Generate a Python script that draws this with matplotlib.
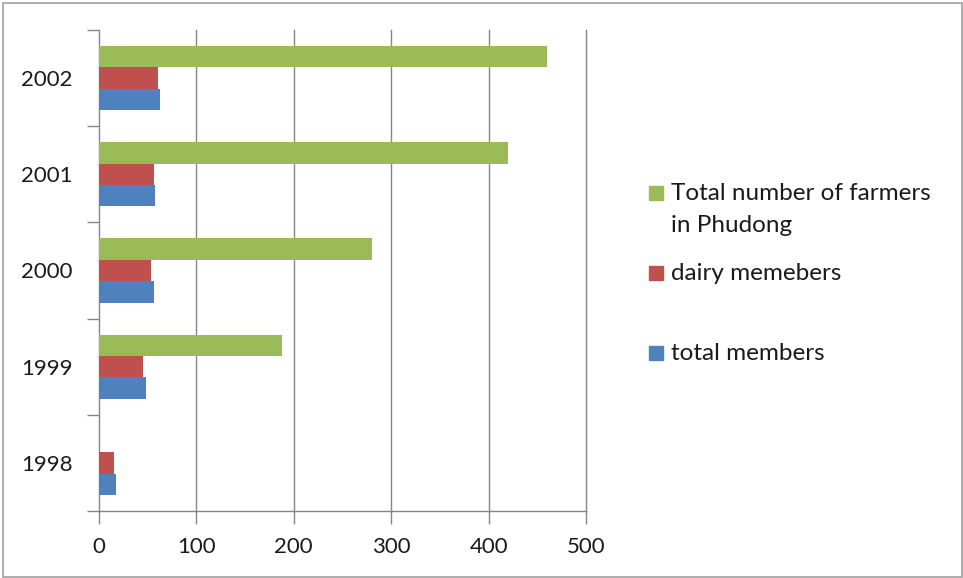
import matplotlib

matplotlib.use("Agg")
import matplotlib.pyplot as plt
import numpy as np
from matplotlib.patches import Rectangle

years = ["1998", "1999", "2000", "2001", "2002"]
total_members = [17.5, 48, 56, 57, 63]
dairy_members = [15, 45.5, 53, 56, 61]
farmers_phudong = [0, 188, 280, 420, 460]

series = [
    ("total members", total_members, "#4F81BD"),
    ("dairy memebers", dairy_members, "#C0504D"),
    ("Total number of farmers\nin Phudong", farmers_phudong, "#9BBB59"),
]

plt.rcParams["font.family"] = ["Lato", "DejaVu Sans"]
W, H = 963, 578
fig = plt.figure(figsize=(W / 100, H / 100), dpi=100)
ax = fig.add_axes([99 / W, (H - 511) / H, (586 - 99) / W, (511 - 30) / H])

grid_col = "#868686"
y = np.arange(len(years))
h = 2 / 3 / 3
for i, (name, vals, col) in enumerate(series):
    ax.barh(y + (i - 1) * h, vals, height=h, color=col, zorder=3)

ax.set_xlim(0, 500)
ax.set_ylim(-0.5, len(years) - 0.5)
ax.set_xticks(np.arange(0, 501, 100))
ax.set_yticks(np.arange(-0.5, len(years), 1.0))
ax.set_yticklabels([])
ax.set_yticks(y, minor=True)
ax.set_yticklabels(years, minor=True)
ax.tick_params(axis="y", which="major", length=9, color=grid_col, width=1)
ax.tick_params(axis="y", which="minor", length=0, pad=19, labelsize=16, labelcolor="#1a1a1a")
ax.tick_params(axis="x", length=9, color=grid_col, width=1, pad=10, labelsize=16, labelcolor="#1a1a1a")
for xv in ax.get_xticks()[1:]:
    ax.axvline(xv, color=grid_col, linewidth=1, zorder=0, clip_on=False)
for side in ("top", "right"):
    ax.spines[side].set_visible(False)
for side in ("left", "bottom"):
    ax.spines[side].set_color(grid_col)
    ax.spines[side].set_linewidth(1)

# legend drawn by hand to keep the uneven spacing between entries
legend_rows = [(193, 225), (273, None), (353, None)]
for (name, vals, col), (ty, ty2) in zip(reversed(series), legend_rows):
    fig.patches.append(Rectangle((649 / W, (H - ty - 7) / H), 14 / W, 14 / H,
                                 transform=fig.transFigure, color=col))
    lines = name.split("\n")
    fig.text(671 / W, (H - ty) / H, lines[0], fontsize=17.5, color="#1a1a1a", va="center")
    if ty2 is not None:
        fig.text(671 / W, (H - ty2) / H, lines[1], fontsize=17.5, color="#1a1a1a", va="center")

fig.patches.append(Rectangle((3 / W, 1.3 / H), (961.7 - 3) / W, (575 - 1.3) / H,
                             transform=fig.transFigure, fill=False,
                             edgecolor="#a0a0a0", linewidth=1.2))

fig.savefig("out.png", dpi=100)
